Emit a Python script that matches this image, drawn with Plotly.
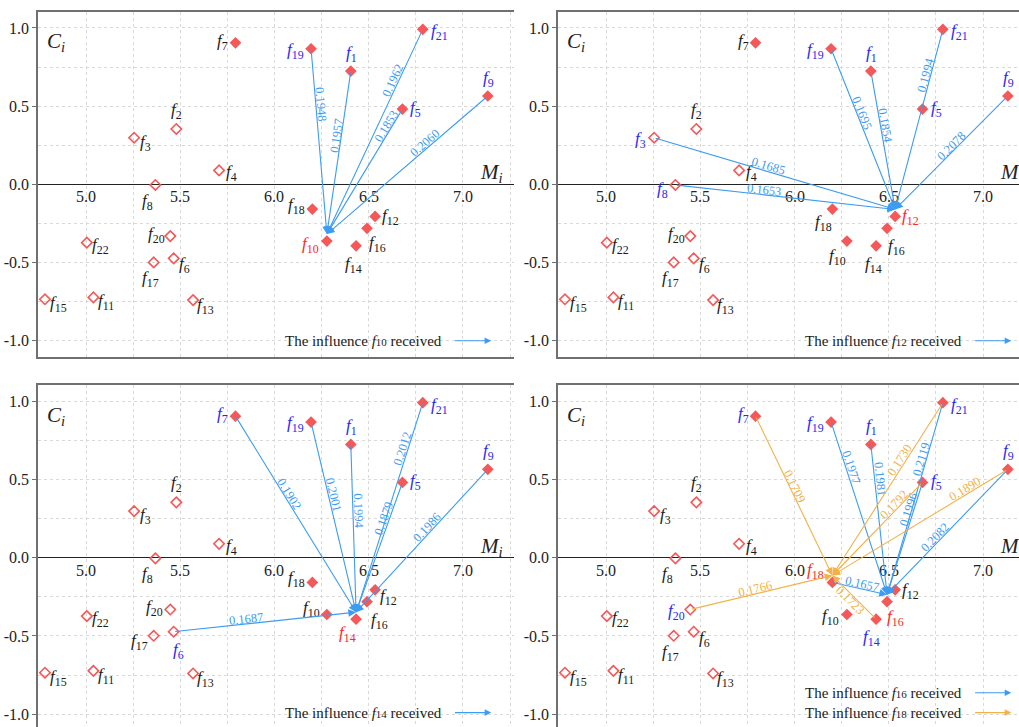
import math
import plotly.graph_objects as go

# ---------------- data ----------------
factor_names = ["f1", "f2", "f3", "f4", "f5", "f6", "f7", "f8", "f9", "f10", "f11",
                "f12", "f13", "f14", "f15", "f16", "f17", "f18", "f19", "f20", "f21", "f22"]
M_values = [6.405, 5.479, 5.255, 5.706, 6.679, 5.465, 5.793, 5.368, 7.132, 6.278, 5.039,
            6.534, 5.568, 6.433, 4.782, 6.491, 5.359, 6.201, 6.194, 5.447, 6.787, 5.004]
C_values = [0.724, 0.354, 0.298, 0.089, 0.481, -0.473, 0.905, -0.004, 0.565, -0.363, -0.723,
            -0.205, -0.740, -0.393, -0.735, -0.281, -0.499, -0.158, 0.867, -0.331, 0.991, -0.373]
filled_factors = ["f1", "f5", "f7", "f9", "f10", "f12", "f14", "f16", "f18", "f19", "f21"]

x_tick_values = [5.0, 5.5, 6.0, 6.5, 7.0]
x_tick_labels = ["5.0", "5.5", "6.0", "6.5", "7.0"]
y_tick_values = [-1.0, -0.5, 0.0, 0.5, 1.0]
y_tick_labels = ["-1.0", "-0.5", "0.0", "0.5", "1.0"]

p1_target = "f10"
p1_sources = ["f19", "f1", "f21", "f5", "f9"]
p1_weights = [0.1948, 0.1957, 0.1962, 0.1853, 0.2060]

p2_target = "f12"
p2_sources = ["f3", "f8", "f19", "f1", "f21", "f9"]
p2_weights = [0.1685, 0.1653, 0.1695, 0.1854, 0.1994, 0.2078]
p2_other_sources = ["f5"]

p3_target = "f14"
p3_sources = ["f7", "f19", "f1", "f21", "f5", "f9", "f6"]
p3_weights = [0.1902, 0.2001, 0.1994, 0.2012, 0.1879, 0.1986, 0.1687]

p4_blue_target = "f16"
p4_blue_sources = ["f19", "f1", "f21", "f5", "f9", "f18"]
p4_blue_weights = [0.1977, 0.1981, 0.2119, 0.1996, 0.2082, 0.1657]

p4_orange_target = "f18"
p4_orange_sources = ["f7", "f21", "f5", "f9", "f20", "f14"]
p4_orange_weights = [0.1709, 0.1730, 0.1792, 0.1890, 0.1766, 0.1723]

# ---------------- styles ----------------
W, H = 1019, 727
FONT = "Liberation Serif, Times New Roman, DejaVu Serif, serif"
BLUE_ARROW = "#3c9cf2"
ORANGE_ARROW = "#f2b24a"
SRC_TEXT = "#2828f2"
TGT_TEXT = "#ff2626"
MARKER = "#f45858"
FRAME = "#707070"
GRID = "#d9d9d9"
SX, SY = 188.5, 156.4          # pixels per data unit
TIP_UP = 7                     # arrow tips stop a few px above target
LABEL_OFF = 5

pos = dict(zip(factor_names, zip(M_values, C_values)))

# label placement (xanchor, yanchor, xshift, yshift)
default_lab = {
    "f1": ("center", "bottom", 1, 4), "f2": ("center", "bottom", 0, 5),
    "f3": ("left", "middle", 4, -5), "f4": ("left", "middle", 5, -3),
    "f5": ("left", "middle", 6, 0), "f6": ("left", "middle", 3, -7),
    "f7": ("right", "middle", -5, 1), "f8": ("center", "top", -8, -4),
    "f9": ("center", "bottom", 1, 4), "f10": ("right", "middle", -6, -4),
    "f11": ("left", "middle", 3, -5), "f12": ("left", "middle", 5, -1),
    "f13": ("left", "middle", 2, -6), "f14": ("center", "top", -3, -6),
    "f15": ("left", "middle", 3, -5), "f16": ("left", "top", 0, -3),
    "f17": ("center", "top", -3, -4), "f18": ("right", "middle", -5, 3),
    "f19": ("right", "middle", -5, -2), "f20": ("right", "middle", -3, 1),
    "f21": ("left", "middle", 6, -3), "f22": ("left", "middle", 3, -3),
}
overrides = {
    2: {"f3": ("right", "middle", -6, -2), "f8": ("right", "middle", -5, -5),
        "f10": ("center", "top", -9, -3), "f18": ("center", "top", -9, -1),
        "f16": ("center", "top", 9, -6)},
    3: {"f6": ("center", "top", 5, -6), "f14": ("center", "top", -9, -2),
        "f10": ("right", "middle", -5, 6), "f16": ("left", "top", 2, -6),
        "f12": ("left", "middle", 3, -7), "f20": ("right", "middle", -5, 2),
        "f17": ("right", "middle", -4, -6)},
    4: {"f18": ("right", "middle", -6, 11), "f14": ("center", "top", -5, -6),
        "f16": ("center", "top", 8, -3), "f10": ("right", "middle", -6, -2),
        "f20": ("right", "middle", -3, -2)},
}

# label fraction along arrow and side
frac = {
    1: [[0.30, 0.40, 0.26, 0.155, 0.37]],
    2: [[0.467, 0.40, 0.41, 0.40, 0.26, 0.47]],
    3: [[0.41, 0.39, 0.40, 0.23, 0.29, 0.43, 0.40]],
    4: [[0.27, 0.23, 0.30, 0.26, 0.57, 0.52], [0.45, 0.35, 0.28, 0.23, 0.46, 0.52]],
}
sides = {(4, 1, 5): -1}

panel_arrows = {
    1: [(p1_target, p1_sources, p1_weights, BLUE_ARROW)],
    2: [(p2_target, p2_sources, p2_weights, BLUE_ARROW)],
    3: [(p3_target, p3_sources, p3_weights, BLUE_ARROW)],
    4: [(p4_blue_target, p4_blue_sources, p4_blue_weights, BLUE_ARROW),
        (p4_orange_target, p4_orange_sources, p4_orange_weights, ORANGE_ARROW)],
}
extra_src = {2: p2_other_sources}

panels = {
    1: dict(px=[38, 514], py=[12, 357], xr=[4.745, 7.271], yr=[-1.104, 1.102], top=True),
    2: dict(px=[558, 1019], py=[12, 357], xr=[4.745, 7.191], yr=[-1.104, 1.102], top=True),
    3: dict(px=[38, 514], py=[385, 727], xr=[4.745, 7.271], yr=[-1.082, 1.104], top=False),
    4: dict(px=[558, 1019], py=[385, 727], xr=[4.745, 7.191], yr=[-1.082, 1.104], top=False),
}
legend_rows = {
    1: [("10", BLUE_ARROW, -1.0)],
    2: [("12", BLUE_ARROW, -1.0)],
    3: [("14", BLUE_ARROW, -0.99)],
    4: [("16", BLUE_ARROW, -0.863), ("18", ORANGE_ARROW, -0.99)],
}


def flabel(name):
    return "<i>f</i><sub>%s</sub>" % name[1:]


fig = go.Figure()
annotations = []
layout_axes = {}

for k, P in panels.items():
    xs = "" if k == 1 else str(k)
    xref, yref = "x" + xs, "y" + xs
    xdom = [P["px"][0] / W, P["px"][1] / W]
    ydom = [1 - P["py"][1] / H, 1 - P["py"][0] / H]
    layout_axes["xaxis" + xs] = dict(
        domain=xdom, range=P["xr"], anchor=yref, showgrid=True, gridcolor=GRID,
        griddash="dot", gridwidth=1, tickmode="linear", tick0=5.0, dtick=0.25,
        showticklabels=False, ticks="", zeroline=False, showline=True,
        linecolor=FRAME, linewidth=1.5, mirror=P["top"],
        side="bottom" if P["top"] else "top", fixedrange=True)
    layout_axes["yaxis" + xs] = dict(
        domain=ydom, range=P["yr"], anchor=xref, showgrid=True, gridcolor=GRID,
        griddash="dot", gridwidth=1, tickmode="array", tickvals=y_tick_values,
        ticktext=y_tick_labels, ticks="outside", ticklen=4, tickcolor=FRAME,
        tickfont=dict(family=FONT, size=16, color="#222"),
        minor=dict(tickmode="linear", tick0=0, dtick=0.25, showgrid=True,
                   gridcolor=GRID, griddash="dot", ticks=""),
        zeroline=True, zerolinecolor="#222", zerolinewidth=1.2, showline=True,
        linecolor=FRAME, linewidth=1.5, mirror=False, fixedrange=True)

    # markers
    fx = [pos[n][0] for n in factor_names if n in filled_factors]
    fy = [pos[n][1] for n in factor_names if n in filled_factors]
    ox = [pos[n][0] for n in factor_names if n not in filled_factors]
    oy = [pos[n][1] for n in factor_names if n not in filled_factors]
    fig.add_trace(go.Scatter(x=fx, y=fy, mode="markers", xaxis=xref, yaxis=yref,
                             marker=dict(symbol="diamond", size=9, color=MARKER),
                             showlegend=False, hoverinfo="skip"))
    fig.add_trace(go.Scatter(x=ox, y=oy, mode="markers", xaxis=xref, yaxis=yref,
                             marker=dict(symbol="diamond-open", size=8, color=MARKER,
                                         line=dict(width=1.6, color=MARKER)),
                             showlegend=False, hoverinfo="skip"))

    # colours of labels
    sources, targets = set(extra_src.get(k, [])), set()
    for tgt, srcs, ws, col in panel_arrows[k]:
        targets.add(tgt)
        sources.update(srcs)

    # x tick labels along the zero line
    for v, t in zip(x_tick_values, x_tick_labels):
        annotations.append(dict(x=v, y=0, xref=xref, yref=yref, text=t, showarrow=False,
                                xanchor="center", yanchor="top", yshift=-2,
                                font=dict(family=FONT, size=16, color="#222")))
    # axis titles
    annotations.append(dict(x=4.843, y=0.907, xref=xref, yref=yref, showarrow=False,
                            text="<i>C<sub>i</sub></i>",
                            font=dict(family=FONT, size=21, color="#222")))
    annotations.append(dict(x=7.15, y=0.07, xref=xref, yref=yref, showarrow=False,
                            text="<i>M<sub>i</sub></i>",
                            font=dict(family=FONT, size=21, color="#222")))

    # point labels
    for n in factor_names:
        xa, ya, dx, dy = overrides.get(k, {}).get(n, default_lab[n])
        col = TGT_TEXT if n in targets else (SRC_TEXT if n in sources else "#1a1a1a")
        annotations.append(dict(x=pos[n][0], y=pos[n][1], xref=xref, yref=yref,
                                text=flabel(n), showarrow=False, xanchor=xa, yanchor=ya,
                                xshift=dx, yshift=dy,
                                font=dict(family=FONT, size=17, color=col)))

    # arrows and their weight labels
    for gi, (tgt, srcs, ws, col) in enumerate(panel_arrows[k]):
        tx, ty = pos[tgt]
        ty_tip = ty + TIP_UP / SY
        for ai, (s, w) in enumerate(zip(srcs, ws)):
            sx_, sy_ = pos[s]
            annotations.append(dict(x=tx, y=ty_tip, ax=sx_, ay=sy_, xref=xref, yref=yref,
                                    axref=xref, ayref=yref, text="", showarrow=True,
                                    arrowhead=2, arrowsize=1.4, arrowwidth=1.1,
                                    arrowcolor=col, standoff=0, startstandoff=0))
            f = frac[k][gi][ai]
            lx = sx_ + f * (tx - sx_)
            ly = sy_ + f * (ty_tip - sy_)
            dxp = (tx - sx_) * SX
            dyp = -(ty_tip - sy_) * SY
            if dxp < 0:
                dxp, dyp = -dxp, -dyp
            th = math.atan2(dyp, dxp)
            side = sides.get((k, gi, ai), 1)
            ux, uy = math.sin(th), -math.cos(th)
            lx += side * LABEL_OFF * ux / SX
            ly += side * LABEL_OFF * (-uy) / SY
            annotations.append(dict(x=lx, y=ly, xref=xref, yref=yref, text="%.4f" % w,
                                    showarrow=False, textangle=math.degrees(th),
                                    font=dict(family=FONT, size=12.5, color=col)))

    # legend rows
    for sub, col, yy in legend_rows[k]:
        annotations.append(dict(x=6.90, y=yy, xref=xref, yref=yref, showarrow=False,
                                xanchor="right", yanchor="middle",
                                text="The influence <i>f</i><span style='font-size:11px'>%s</span> received" % sub,
                                font=dict(family=FONT, size=15, color="#1a1a1a")))
        annotations.append(dict(x=7.15, y=yy, ax=6.95, ay=yy, xref=xref, yref=yref,
                                axref=xref, ayref=yref, text="", showarrow=True,
                                arrowhead=2, arrowsize=1.2, arrowwidth=1.1,
                                arrowcolor=col, standoff=0))

fig.update_layout(width=W, height=H, margin=dict(l=0, r=0, t=0, b=0),
                  paper_bgcolor="white", plot_bgcolor="white",
                  font=dict(family=FONT),
                  showlegend=False, annotations=annotations, **layout_axes)
fig.write_html("out.html", config={"displayModeBar": False},
               post_script="document.body.style.margin='0px';document.body.style.overflow='hidden';")
